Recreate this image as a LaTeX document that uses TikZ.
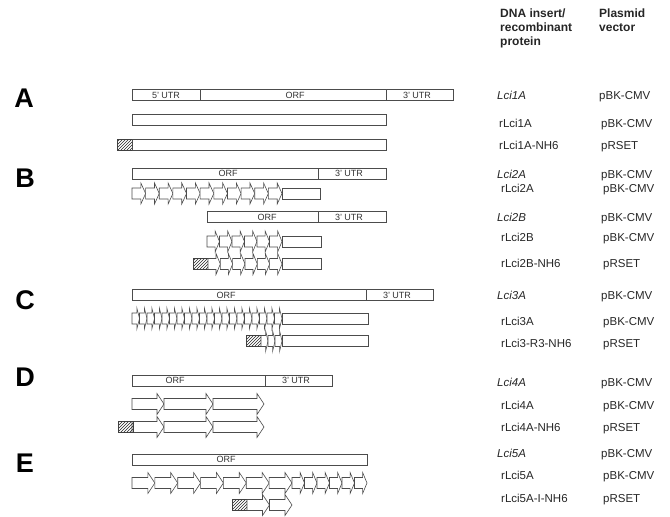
\documentclass[tikz,border=0pt]{standalone}
\usepackage{fontspec}
\setmainfont{Liberation Sans}
\usepackage{xcolor}
\usepackage{tikz}
\usetikzlibrary{patterns}

% one repeat unit: left x, right x, centre y
\newcommand{\lcirep}[3]{%
  \pgfmathsetmacro{\rl}{#1}%
  \pgfmathsetmacro{\rr}{#2}%
  \pgfmathsetmacro{\rh}{min(7,0.35*(\rr-\rl))}%
  \draw[unit] (\rl,{#3-5.5}) -- ({\rr-\rh},{#3-5.5}) -- ({\rr-\rh},{#3-10.5})
    -- (\rr,#3) -- ({\rr-\rh},{#3+10.5}) -- ({\rr-\rh},{#3+5.5}) -- (\rl,{#3+5.5}) -- cycle;}

\begin{document}
\begin{tikzpicture}[x=1pt, y=-1pt,
  seg/.style={draw=black!70, fill=white, line width=0.6pt},
  unit/.style={draw=black!70, fill=white, line width=0.6pt, line join=miter},
  histag/.style={pattern=north east lines, pattern color=black!85, draw=black!75, line width=0.6pt},
  panel/.style={font=\fontsize{27}{27}\selectfont\bfseries, inner sep=0pt},
  inlbl/.style={font=\fontsize{9}{9}\selectfont, text=black!80, inner sep=0pt},
  rowlbl/.style={font=\fontsize{11.5}{12}\selectfont, text=black!85, anchor=base west, inner sep=0pt},
  colhead/.style={font=\fontsize{12}{14}\selectfont\bfseries, text=black!85, anchor=north west, inner sep=0pt, align=left}]

% === Drawing region ===
\useasboundingbox (0,0) rectangle (670,517);

% === Parameters ===
\pgfmathsetmacro{\hh}{5.5}      % half height of a bar
\pgfmathsetmacro{\colins}{499}  % insert column
\pgfmathsetmacro{\colvec}{601}  % vector column

% === Column heads ===
\node[colhead] (hdInsert) at (500,9) {DNA insert/\\recombinant\\protein};
\node[colhead] (hdVector) at (599,9) {Plasmid\\vector};

% === Panel letters ===
\node[panel] (labA) at (24,98) {A};
\node[panel] (labB) at (25,178) {B};
\node[panel] (labC) at (25,300) {C};
\node[panel] (labD) at (25,377) {D};
\node[panel] (labE) at (25,463) {E};

% === A: Lci1A ===
\draw[seg] (132,{95-\hh}) rectangle (453,{95+\hh});
\draw[seg] (200,{95-\hh}) -- (200,{95+\hh});
\draw[seg] (386,{95-\hh}) -- (386,{95+\hh});
\node[inlbl] (a5utr) at (166,95) {5' UTR};
\node[inlbl] (aorf) at (295,95) {ORF};
\node[inlbl] (a3utr) at (417,95) {3' UTR};
\draw[seg] (132,{120-\hh}) rectangle (386,{120+\hh});
\draw[histag] (117,{145-\hh}) rectangle (132,{145+\hh});
\draw[seg] (132,{145-\hh}) rectangle (386,{145+\hh});

% === B: Lci2A, Lci2B ===
\draw[seg] (132,{173.5-\hh}) rectangle (386,{173.5+\hh});
\draw[seg] (318,{173.5-\hh}) -- (318,{173.5+\hh});
\node[inlbl] (borf) at (228,173.5) {ORF};
\node[inlbl] (b3utr) at (349,173.5) {3' UTR};
\foreach \k in {0,...,10} {\lcirep{132+\k*150/11}{132+(\k+1)*150/11}{193.5}}
\draw[seg] (282,{193.5-\hh}) rectangle (320,{193.5+\hh});
\draw[seg] (207,{217-\hh}) rectangle (386,{217+\hh});
\draw[seg] (318,{217-\hh}) -- (318,{217+\hh});
\node[inlbl] (bborf) at (267,217) {ORF};
\node[inlbl] (bb3utr) at (349,217) {3' UTR};
\foreach \k in {0,...,5} {\lcirep{207+\k*12.5}{207+(\k+1)*12.5}{241.5}}
\draw[seg] (282,{241.5-\hh}) rectangle (321,{241.5+\hh});
\draw[histag] (193,{264-\hh}) rectangle (208,{264+\hh});
\foreach \k in {0,...,5} {\lcirep{208+\k*74/6}{208+(\k+1)*74/6}{264}}
\draw[seg] (282,{264-\hh}) rectangle (321,{264+\hh});

% === C: Lci3A ===
\draw[seg] (132,{295-\hh}) rectangle (433,{295+\hh});
\draw[seg] (366,{295-\hh}) -- (366,{295+\hh});
\node[inlbl] (corf) at (226,295) {ORF};
\node[inlbl] (c3utr) at (397,295) {3' UTR};
\foreach \k in {0,...,19} {\lcirep{132+\k*7.5}{132+(\k+1)*7.5}{318.5}}
\draw[seg] (282,{318.5-\hh}) rectangle (368,{318.5+\hh});
\draw[histag] (246,{341-\hh}) rectangle (261,{341+\hh});
\foreach \k in {0,...,2} {\lcirep{261+\k*7}{261+(\k+1)*7}{341}}
\draw[seg] (282,{341-\hh}) rectangle (368,{341+\hh});

% === D: Lci4A ===
\draw[seg] (132,{380.5-\hh}) rectangle (332,{380.5+\hh});
\draw[seg] (265,{380.5-\hh}) -- (265,{380.5+\hh});
\node[inlbl] (dorf) at (175,380.5) {ORF};
\node[inlbl] (d3utr) at (296,380.5) {3' UTR};
\foreach \yy in {404,427} {
  \lcirep{132}{164}{\yy}
  \lcirep{164}{213}{\yy}
  \lcirep{213}{264}{\yy}
}
\draw[histag] (118,{427-\hh}) rectangle (133,{427+\hh});

% === E: Lci5A ===
\draw[seg] (132,{459.5-\hh}) rectangle (367,{459.5+\hh});
\node[inlbl] (eorf) at (226,459.5) {ORF};
\foreach \k in {0,...,6} {\lcirep{132+\k*160/7}{132+(\k+1)*160/7}{483}}
\foreach \k in {0,...,5} {\lcirep{292+\k*12.5}{292+(\k+1)*12.5}{483}}
\draw[histag] (232,{505-\hh}) rectangle (247,{505+\hh});
\lcirep{247}{269.5}{505}
\lcirep{269.5}{292}{505}

% === Inserts and vectors ===
\node[rowlbl] (insA1) at (497,99) {\textit{Lci1A}};
\node[rowlbl] (insA2) at (\colins,127) {rLci1A};
\node[rowlbl] (insA3) at (\colins,149) {rLci1A-NH6};
\node[rowlbl] (insB1) at (497,178) {\textit{Lci2A}};
\node[rowlbl] (insB2) at (501,192) {rLci2A};
\node[rowlbl] (insB3) at (497,221) {\textit{Lci2B}};
\node[rowlbl] (insB4) at (501,241) {rLci2B};
\node[rowlbl] (insB5) at (501,267) {rLci2B-NH6};
\node[rowlbl] (insC1) at (497,299) {\textit{Lci3A}};
\node[rowlbl] (insC2) at (501,325) {rLci3A};
\node[rowlbl] (insC3) at (501,347) {rLci3-R3-NH6};
\node[rowlbl] (insD1) at (497,386) {\textit{Lci4A}};
\node[rowlbl] (insD2) at (501,409) {rLci4A};
\node[rowlbl] (insD3) at (501,431) {rLci4A-NH6};
\node[rowlbl] (insE1) at (497,457) {\textit{Lci5A}};
\node[rowlbl] (insE2) at (501,479) {rLci5A};
\node[rowlbl] (insE3) at (501,502) {rLci5A-I-NH6};

\node[rowlbl] (vecA1) at (599,99) {pBK-CMV};
\node[rowlbl] (vecA2) at (\colvec,127) {pBK-CMV};
\node[rowlbl] (vecA3) at (\colvec,149) {pRSET};
\node[rowlbl] (vecB1) at (\colvec,178) {pBK-CMV};
\node[rowlbl] (vecB2) at (603,192) {pBK-CMV};
\node[rowlbl] (vecB3) at (\colvec,221) {pBK-CMV};
\node[rowlbl] (vecB4) at (603,241) {pBK-CMV};
\node[rowlbl] (vecB5) at (603,267) {pRSET};
\node[rowlbl] (vecC1) at (\colvec,299) {pBK-CMV};
\node[rowlbl] (vecC2) at (603,325) {pBK-CMV};
\node[rowlbl] (vecC3) at (603,347) {pRSET};
\node[rowlbl] (vecD1) at (\colvec,386) {pBK-CMV};
\node[rowlbl] (vecD2) at (603,409) {pBK-CMV};
\node[rowlbl] (vecD3) at (603,431) {pRSET};
\node[rowlbl] (vecE1) at (\colvec,457) {pBK-CMV};
\node[rowlbl] (vecE2) at (603,479) {pBK-CMV};
\node[rowlbl] (vecE3) at (603,502) {pRSET};

\end{tikzpicture}
\end{document}
